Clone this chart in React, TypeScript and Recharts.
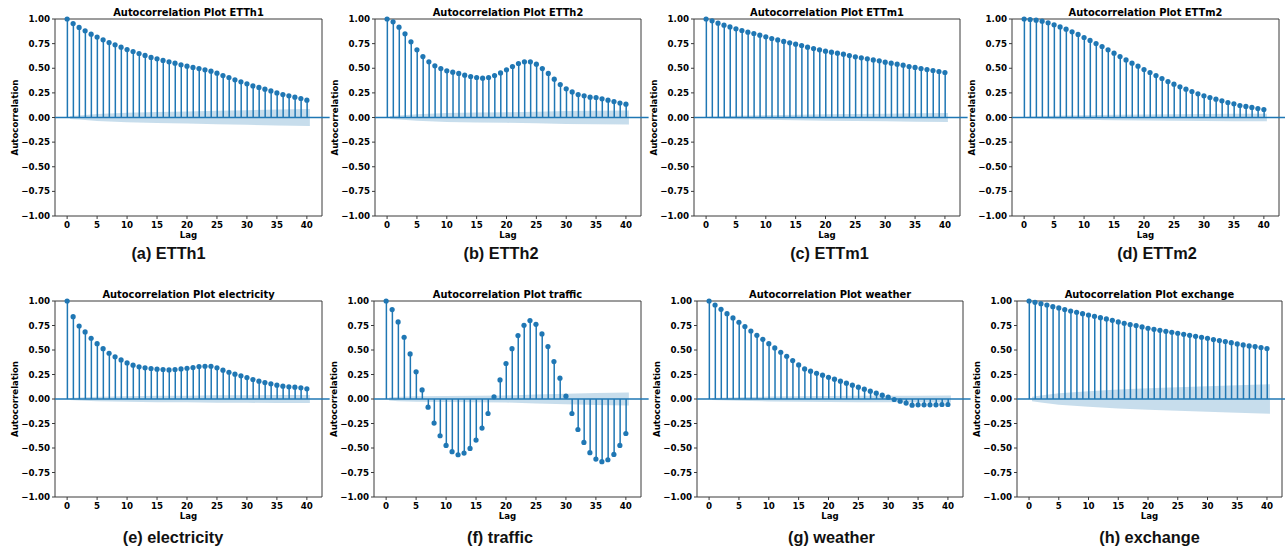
import {
  Area,
  Bar,
  ComposedChart,
  ReferenceArea,
  ReferenceLine,
  Scatter,
  XAxis,
  YAxis,
} from "recharts";

const LAGS = [
  0, 1, 2, 3, 4, 5, 6, 7, 8, 9, 10, 11, 12, 13, 14, 15, 16, 17, 18, 19, 20,
  21, 22, 23, 24, 25, 26, 27, 28, 29, 30, 31, 32, 33, 34, 35, 36, 37, 38, 39, 40,
];
const X_TICKS = [0, 5, 10, 15, 20, 25, 30, 35, 40];
const Y_TICKS = [-1, -0.75, -0.5, -0.25, 0, 0.25, 0.5, 0.75, 1];
// x positions of the confidence band (first/last shifted by half a lag, as statsmodels does)
const BAND_LAGS = [0.5, 2, 5, 10, 15, 20, 25, 30, 35, 40.5];

const ETTH1_ACF = [
  1.0, 0.954, 0.914, 0.88, 0.846, 0.816, 0.789, 0.761, 0.738, 0.714, 0.69,
  0.67, 0.65, 0.63, 0.61, 0.596, 0.579, 0.565, 0.552, 0.535, 0.521, 0.508,
  0.497, 0.484, 0.47, 0.45, 0.426, 0.406, 0.382, 0.362, 0.342, 0.321, 0.305,
  0.288, 0.27, 0.25, 0.233, 0.22, 0.206, 0.193, 0.176,
];
const ETTH1_BAND = [0.015, 0.021, 0.035, 0.048, 0.056, 0.062, 0.068, 0.074, 0.08, 0.086];

const ETTH2_ACF = [
  1.0, 0.971, 0.917, 0.849, 0.768, 0.687, 0.619, 0.565, 0.525, 0.497, 0.474,
  0.46, 0.447, 0.43, 0.416, 0.406, 0.399, 0.406, 0.426, 0.453, 0.484, 0.518,
  0.548, 0.565, 0.565, 0.541, 0.497, 0.447, 0.389, 0.335, 0.291, 0.26, 0.233,
  0.22, 0.206, 0.203, 0.19, 0.176, 0.162, 0.146, 0.135,
];
const ETTH2_BAND = [0.015, 0.021, 0.034, 0.045, 0.05, 0.054, 0.059, 0.065, 0.068, 0.071];

const ETTM1_ACF = [
  1.0, 0.981, 0.958, 0.937, 0.92, 0.9, 0.883, 0.866, 0.853, 0.836, 0.819,
  0.802, 0.788, 0.772, 0.758, 0.744, 0.731, 0.714, 0.7, 0.687, 0.673, 0.663,
  0.653, 0.643, 0.629, 0.616, 0.606, 0.596, 0.585, 0.575, 0.562, 0.552, 0.541,
  0.531, 0.518, 0.508, 0.497, 0.487, 0.477, 0.467, 0.457,
];
const ETTM1_BAND = [0.008, 0.011, 0.017, 0.023, 0.028, 0.032, 0.036, 0.039, 0.042, 0.045];

const ETTM2_ACF = [
  1.0, 0.995, 0.988, 0.978, 0.961, 0.941, 0.92, 0.897, 0.87, 0.843, 0.812,
  0.782, 0.751, 0.721, 0.687, 0.653, 0.619, 0.585, 0.552, 0.521, 0.487, 0.457,
  0.426, 0.396, 0.365, 0.338, 0.311, 0.288, 0.264, 0.24, 0.22, 0.203, 0.186,
  0.169, 0.152, 0.139, 0.122, 0.112, 0.102, 0.091, 0.081,
];
const ETTM2_BAND = [0.008, 0.011, 0.017, 0.023, 0.028, 0.031, 0.034, 0.036, 0.037, 0.038];

const ELECTRICITY_ACF = [
  1.0, 0.84, 0.745, 0.684, 0.62, 0.565, 0.514, 0.467, 0.43, 0.399, 0.368,
  0.345, 0.328, 0.318, 0.311, 0.304, 0.301, 0.297, 0.301, 0.307, 0.314, 0.321,
  0.331, 0.334, 0.334, 0.318, 0.294, 0.273, 0.253, 0.236, 0.219, 0.199, 0.182,
  0.168, 0.155, 0.141, 0.131, 0.124, 0.121, 0.114, 0.104,
];
const ELECTRICITY_BAND = [0.011, 0.016, 0.024, 0.029, 0.032, 0.034, 0.037, 0.039, 0.041, 0.042];

const TRAFFIC_ACF = [
  1.0, 0.912, 0.786, 0.63, 0.46, 0.277, 0.093, -0.083, -0.246, -0.375, -0.474,
  -0.538, -0.569, -0.552, -0.504, -0.419, -0.297, -0.148, 0.022, 0.195, 0.362,
  0.514, 0.647, 0.752, 0.8, 0.762, 0.664, 0.535, 0.382, 0.212, 0.029, -0.148,
  -0.311, -0.443, -0.548, -0.613, -0.64, -0.62, -0.566, -0.474, -0.352,
];
const TRAFFIC_BAND = [0.015, 0.022, 0.028, 0.03, 0.034, 0.036, 0.045, 0.054, 0.06, 0.066];

const WEATHER_ACF = [
  1.0, 0.959, 0.915, 0.871, 0.827, 0.783, 0.739, 0.694, 0.65, 0.609, 0.565,
  0.521, 0.477, 0.436, 0.392, 0.348, 0.307, 0.284, 0.263, 0.243, 0.221, 0.202,
  0.182, 0.161, 0.141, 0.121, 0.1, 0.08, 0.059, 0.039, 0.019, -0.005, -0.022,
  -0.042, -0.063, -0.059, -0.059, -0.059, -0.059, -0.056, -0.056,
];
const WEATHER_BAND = [0.009, 0.013, 0.019, 0.025, 0.029, 0.031, 0.032, 0.033, 0.034, 0.035];

const EXCHANGE_ACF = [
  1.0, 0.986, 0.973, 0.959, 0.942, 0.929, 0.912, 0.898, 0.885, 0.871, 0.857,
  0.844, 0.83, 0.817, 0.803, 0.786, 0.773, 0.759, 0.749, 0.735, 0.722, 0.711,
  0.701, 0.691, 0.681, 0.671, 0.66, 0.65, 0.64, 0.63, 0.62, 0.606, 0.596,
  0.586, 0.575, 0.562, 0.552, 0.542, 0.535, 0.525, 0.515,
];
const EXCHANGE_BAND = [0.022, 0.035, 0.058, 0.08, 0.096, 0.109, 0.12, 0.131, 0.141, 0.151];

const C0 = "#1f77b4";
const FRAME = "#3a3a3a";
const FONT = "DejaVu Sans";

const PANELS = [
  { name: "ETTh1", caption: "(a) ETTh1", acf: ETTH1_ACF, band: ETTH1_BAND, x: 55, y: 19, w: 267, h: 197, cx: 168.5, cy: 258.5 },
  { name: "ETTh2", caption: "(b) ETTh2", acf: ETTH2_ACF, band: ETTH2_BAND, x: 375, y: 19, w: 266, h: 197, cx: 501, cy: 258.5 },
  { name: "ETTm1", caption: "(c) ETTm1", acf: ETTM1_ACF, band: ETTM1_BAND, x: 694, y: 19, w: 266, h: 197, cx: 829.5, cy: 258.5 },
  { name: "ETTm2", caption: "(d) ETTm2", acf: ETTM2_ACF, band: ETTM2_BAND, x: 1012, y: 19, w: 267, h: 197, cx: 1157, cy: 258.5 },
  { name: "electricity", caption: "(e) electricity", acf: ELECTRICITY_ACF, band: ELECTRICITY_BAND, x: 55, y: 301, w: 267, h: 196, cx: 173, cy: 543 },
  { name: "traffic", caption: "(f) traffic", acf: TRAFFIC_ACF, band: TRAFFIC_BAND, x: 374, y: 301, w: 267, h: 196, cx: 500, cy: 543 },
  { name: "weather", caption: "(g) weather", acf: WEATHER_ACF, band: WEATHER_BAND, x: 697, y: 301, w: 266, h: 196, cx: 831.5, cy: 543 },
  { name: "exchange", caption: "(h) exchange", acf: EXCHANGE_ACF, band: EXCHANGE_BAND, x: 1017, y: 301, w: 265, h: 196, cx: 1149.5, cy: 543 },
];

const X_DOMAIN: [number, number] = [-2.025, 42.525];
const LEFT = 55;
const TOP = 19;
const RIGHT = 14;
const X_AXIS_H = 30;

const tickStyle = { fill: "#000", fontSize: 8.7, fontWeight: "bold", fontFamily: FONT };
const labelStyle = { fill: "#000", fontSize: 8.6, fontWeight: "bold", fontFamily: FONT };

const fmt = (v: number) => (v < 0 ? "\u2212" : "") + Math.abs(v).toFixed(2);

const Marker = (props: any) =>
  props.cx == null || props.cy == null ? null : (
    <circle cx={props.cx} cy={props.cy} r={2.6} fill={C0} />
  );

type Panel = (typeof PANELS)[number];

const AcfPanel = ({ p }: { p: Panel }) => {
  const rows = LAGS.map((lag, i) => ({ lag, acf: p.acf[i] }));
  const bandRows = BAND_LAGS.map((lag, i) => ({ lag, band: [-p.band[i], p.band[i]] }));
  return (
    <div style={{ position: "absolute", left: p.x - LEFT, top: p.y - TOP }}>
      <ComposedChart
        width={LEFT + p.w + RIGHT}
        height={TOP + p.h + X_AXIS_H}
        data={rows}
        margin={{ top: TOP, right: RIGHT, bottom: 0, left: 0 }}
      >
        <XAxis
          dataKey="lag"
          type="number"
          domain={X_DOMAIN}
          ticks={X_TICKS}
          interval={0}
          allowDataOverflow
          height={X_AXIS_H}
          axisLine={false}
          tickLine={{ stroke: FRAME }}
          tickSize={3}
          tickMargin={2.5}
          tick={tickStyle}
          label={{ value: "Lag", position: "insideBottom", offset: 8, style: labelStyle }}
        />
        <YAxis
          type="number"
          domain={[-1, 1]}
          ticks={Y_TICKS}
          interval={0}
          width={LEFT}
          axisLine={false}
          tickLine={{ stroke: FRAME }}
          tickSize={3}
          tickMargin={2}
          tick={tickStyle}
          tickFormatter={fmt}
          label={{
            value: "Autocorrelation",
            angle: -90,
            position: "insideLeft",
            offset: 14.5,
            style: { ...labelStyle, textAnchor: "middle" },
          }}
        />
        <Bar dataKey="acf" barSize={1.5} fill={C0} isAnimationActive={false} />
        <Scatter dataKey="acf" fill={C0} shape={Marker} isAnimationActive={false} />
        <ReferenceLine
          segment={[{ x: X_DOMAIN[0], y: 0 }, { x: 43.8, y: 0 }]}
          stroke={C0}
          strokeWidth={1.3}
          ifOverflow="visible"
        />
        <Area
          data={bandRows}
          dataKey="band"
          type="linear"
          stroke="none"
          fill={C0}
          fillOpacity={0.25}
          isAnimationActive={false}
        />
        <ReferenceArea
          x1={X_DOMAIN[0]}
          x2={X_DOMAIN[1]}
          y1={-1}
          y2={1}
          fill="none"
          stroke={FRAME}
          strokeWidth={1}
        />
      </ComposedChart>
    </div>
  );
};

export default function App() {
  return (
    <div
      style={{
        position: "absolute",
        left: 0,
        top: 0,
        width: 1285,
        height: 556,
        background: "#fff",
        overflow: "hidden",
      }}
    >
      <svg width={1285} height={556} style={{ position: "absolute", left: 0, top: 0 }}>
        {PANELS.map((p) => (
          <g key={p.name}>
            <text
              x={p.x + p.w / 2}
              y={p.y - 3.3}
              textAnchor="middle"
              fontFamily={FONT}
              fontWeight="bold"
              fontSize={9.9}
              fill="#000"
            >
              {`Autocorrelation Plot ${p.name}`}
            </text>
            <text
              x={p.cx}
              y={p.cy}
              textAnchor="middle"
              fontFamily="Liberation Sans, Arial, sans-serif"
              fontWeight="bold"
              fontSize={16.3}
              fill="#111"
            >
              {p.caption}
            </text>
          </g>
        ))}
      </svg>
      {PANELS.map((p) => (
        <AcfPanel key={p.name} p={p} />
      ))}
    </div>
  );
}
